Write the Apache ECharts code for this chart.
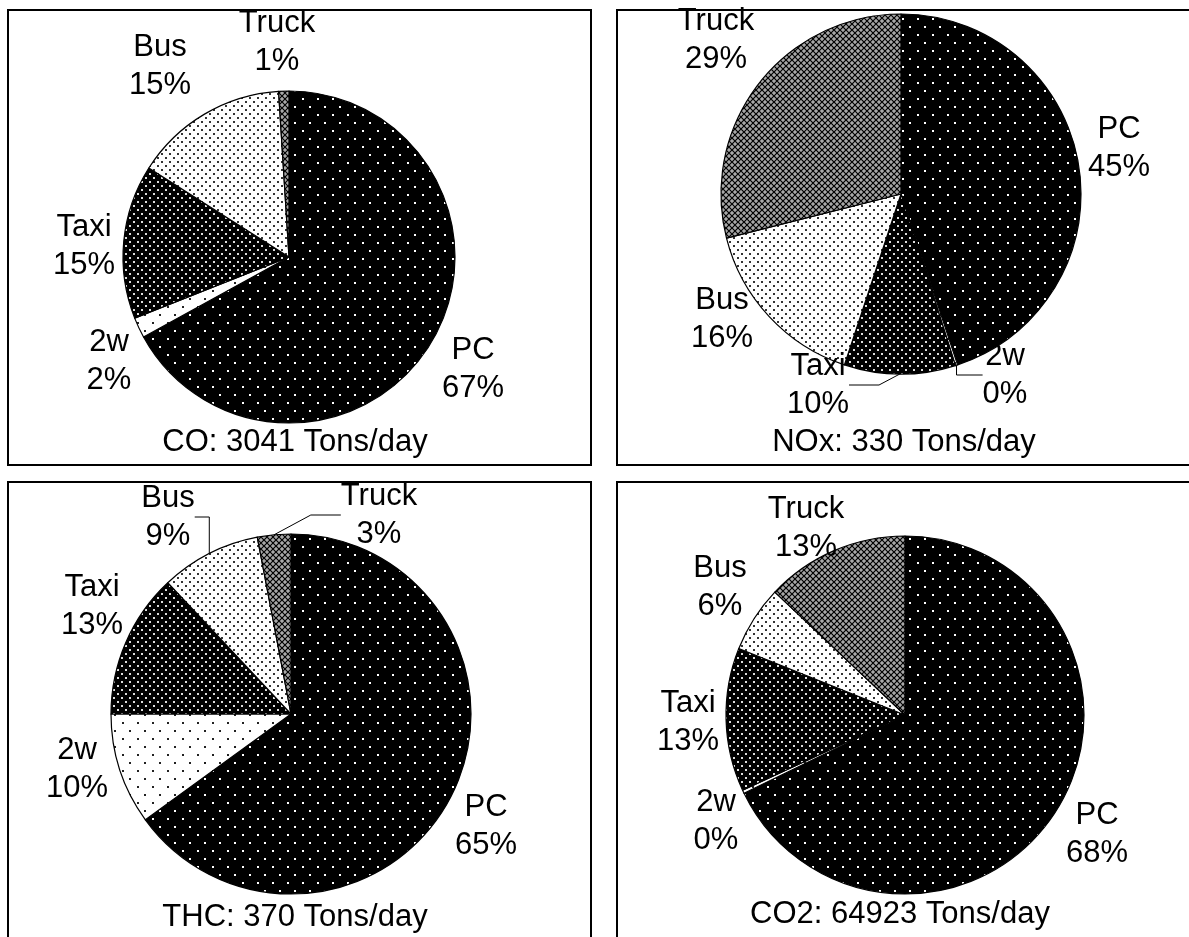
<!DOCTYPE html>
<html>
<head>
<meta charset="utf-8">
<script src="https://cdn.jsdelivr.net/npm/echarts@6/dist/echarts.min.js"></script>
<style>
  html, body { margin: 0; padding: 0; background: #fff; }
  #main { width: 1189px; height: 937px; }
</style>
</head>
<body>
<div id="main"></div>
<script>
// vehicle classes, clockwise from 12 o'clock
const categories = ['PC', '2w', 'Taxi', 'Bus', 'Truck'];

// shares in percent (0% slices kept as a hairline)
const coShare = [67, 2, 15, 15, 1];
const noxShare = [45, 0.2, 10, 16, 29];
const thcShare = [65, 10, 13, 9, 3];
const co2Share = [68, 0.3, 13, 6, 13];

const panelTitles = ['CO: 3041 Tons/day', 'NOx: 330 Tons/day', 'THC: 370 Tons/day', 'CO2: 64923 Tons/day'];

// which labels get a leader line
const leaderLines = [[], ['2w', 'Taxi'], ['Bus', 'Truck'], []];

// layout of the four panels
const panels = [
    {box: [8, 10, 583, 455], center: [289, 257], radius: 166, title: [295, 442],
        labels: [[473, 369], [109, 361], [84, 246], [160, 66], [277, 42]]},
    {box: [617, 10, 600, 455], center: [901, 194], radius: 180, title: [904, 442],
        labels: [[1119, 148], [1005, 375], [818, 385], [722, 319], [716, 40]]},
    {box: [8, 482, 583, 480], center: [291, 714], radius: 180, title: [295, 917],
        labels: [[486, 826], [77, 769], [92, 606], [168, 517], [379, 515]]},
    {box: [617, 482, 600, 480], center: [905, 715], radius: 179, title: [900, 914],
        labels: [[1097, 834], [716, 821], [688, 722], [720, 587], [806, 528]]}
];

const shares = [coShare, noxShare, thcShare, co2Share];

function makeTile(w, h, bg, draw) {
    const c = document.createElement('canvas');
    c.width = w;
    c.height = h;
    const ctx = c.getContext('2d');
    ctx.fillStyle = bg;
    ctx.fillRect(0, 0, w, h);
    draw(ctx);
    return {image: c, repeat: 'repeat'};
}

function dots(ctx, pts, color, size) {
    ctx.fillStyle = color;
    pts.forEach(p => ctx.fillRect(p[0], p[1], size, size));
}

const patterns = {
    'PC': makeTile(15, 16, '#000', ctx => dots(ctx, [[2, 2], [9, 10]], '#fff', 2)),
    '2w': makeTile(15, 16, '#fff', ctx => dots(ctx, [[2, 2], [9, 10]], '#222', 2)),
    'Taxi': makeTile(8, 8, '#000', ctx => dots(ctx, [[1, 1], [5, 5]], '#ddd', 2)),
    'Bus': makeTile(8, 8, '#fff', ctx => dots(ctx, [[1, 1], [5, 5]], '#333', 2)),
    'Truck': makeTile(6, 6, '#a8a8a8', ctx => {
        ctx.strokeStyle = '#000';
        ctx.lineWidth = 1.2;
        ctx.beginPath();
        ctx.moveTo(0, 0); ctx.lineTo(6, 6);
        ctx.moveTo(6, 0); ctx.lineTo(0, 6);
        ctx.stroke();
    })
};

const fontFamily = '"Liberation Sans", Arial, sans-serif';

const series = panels.map((p, i) => ({
    type: 'pie',
    center: p.center,
    radius: p.radius,
    startAngle: 90,
    clockwise: true,
    animation: false,
    silent: true,
    avoidLabelOverlap: false,
    itemStyle: {borderColor: '#000', borderWidth: 1.2},
    label: {
        show: true,
        position: 'outside',
        color: '#000',
        fontFamily: fontFamily,
        fontSize: 31,
        lineHeight: 38,
        formatter: params => params.name + '\n' + Math.round(params.value) + '%'
    },
    labelLine: {show: false, lineStyle: {color: '#000', width: 1}},
    labelLayout: params => {
        const pos = panels[i].labels[params.dataIndex];
        return {x: pos[0], y: pos[1], align: 'center', verticalAlign: 'middle'};
    },
    data: categories.map((name, k) => ({
        name: name,
        value: shares[i][k],
        itemStyle: {color: patterns[name]},
        labelLine: {show: leaderLines[i].includes(name)}
    }))
}));

const graphic = [];
panels.forEach((p, i) => {
    graphic.push({
        type: 'rect',
        shape: {x: p.box[0], y: p.box[1], width: p.box[2], height: p.box[3]},
        style: {fill: 'none', stroke: '#000', lineWidth: 2},
        z: 100
    });
    graphic.push({
        type: 'text',
        x: p.title[0],
        y: p.title[1],
        style: {
            text: panelTitles[i],
            font: '31px ' + fontFamily,
            fill: '#000',
            textAlign: 'center',
            textVerticalAlign: 'middle'
        },
        z: 100
    });
});

const myChart = echarts.init(document.getElementById('main'), null, {renderer: 'canvas'});
myChart.setOption({
    backgroundColor: '#fff',
    animation: false,
    graphic: graphic,
    series: series
});
</script>
</body>
</html>
